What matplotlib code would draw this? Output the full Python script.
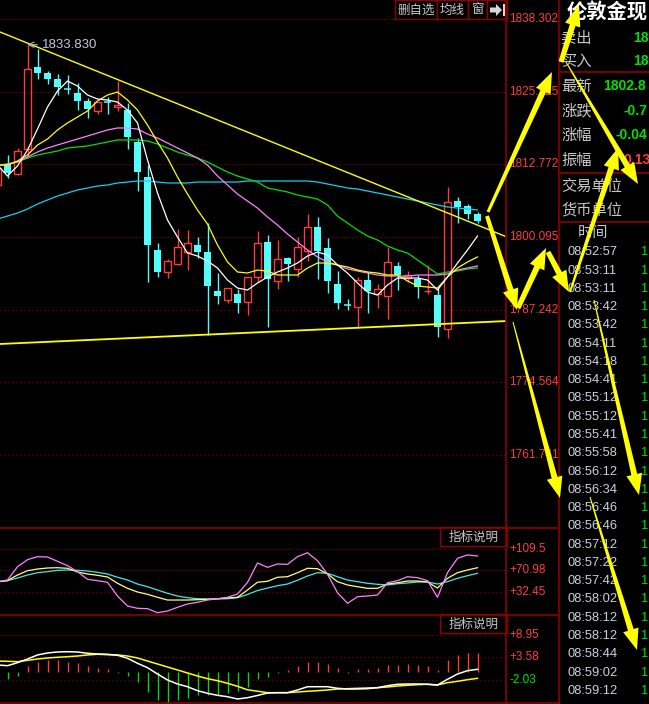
import numpy as np
import matplotlib.pyplot as plt
from matplotlib.patches import Rectangle, Polygon

plt.rcParams['font.family'] = ['Liberation Sans', 'Noto Sans CJK SC', 'DejaVu Sans']
CJK = ['Noto Sans CJK SC', 'DejaVu Sans']

RED = '#ff3c3c'
CYAN = '#54fcfc'
GREEN = '#00e000'
GRID = '#9a0000'
FRAME = '#8c0000'
GREY = '#c8c8c8'

## K-line data, bar -1 is the half bar cut at the left edge
bar_idx = list(range(-1, 48))
opens = [1809.17, 1812.86, 1811.10, 1815.50, 1829.91, 1828.86, 1827.81, 1826.07, 1825.34, 1823.94,
         1822.18, 1823.80, 1822.88, 1822.35, 1816.72, 1810.57, 1797.74, 1793.87, 1795.27, 1797.38,
         1798.61, 1797.38, 1790.53, 1788.94, 1789.99, 1788.59, 1792.99, 1799.14, 1792.29, 1796.33,
         1794.40, 1797.56, 1801.78, 1798.09, 1791.76, 1788.00, 1787.71, 1792.46, 1789.99, 1789.65,
         1794.92, 1792.81, 1792.64, 1790.56, 1789.82, 1783.85, 1806.35, 1805.47, 1804.07]
closes = [1812.15, 1811.27, 1815.15, 1829.56, 1828.86, 1827.81, 1826.40, 1826.05, 1823.94, 1822.53,
          1823.76, 1823.76, 1823.23, 1817.60, 1811.45, 1798.61, 1793.87, 1795.80, 1798.26, 1798.97,
          1797.38, 1791.40, 1789.65, 1791.05, 1788.42, 1792.99, 1798.97, 1792.64, 1796.15, 1795.27,
          1798.26, 1801.78, 1797.56, 1792.29, 1788.42, 1787.98, 1792.46, 1790.53, 1790.88, 1795.62,
          1793.34, 1793.34, 1791.23, 1790.60, 1784.20, 1806.18, 1805.30, 1804.07, 1802.83]
highs = [1813.03, 1814.44, 1815.67, 1833.83, 1833.08, 1829.21, 1828.68, 1828.51, 1827.10, 1824.46,
         1823.76, 1824.64, 1827.45, 1823.59, 1817.43, 1812.68, 1798.97, 1796.15, 1801.43, 1801.25,
         1800.02, 1802.48, 1793.69, 1791.05, 1790.88, 1792.99, 1801.08, 1800.37, 1799.50, 1796.50,
         1800.02, 1804.07, 1803.54, 1799.85, 1794.04, 1789.12, 1792.99, 1793.87, 1791.76, 1798.26,
         1795.62, 1794.04, 1793.34, 1795.10, 1791.05, 1808.81, 1807.06, 1805.83, 1804.42]
lows = [1808.81, 1810.40, 1810.92, 1813.91, 1827.81, 1826.93, 1824.99, 1825.17, 1822.35, 1820.95,
        1821.65, 1821.65, 1822.18, 1815.50, 1808.11, 1792.11, 1792.99, 1792.81, 1795.10, 1794.22,
        1796.33, 1782.79, 1788.24, 1788.42, 1786.66, 1786.30, 1792.11, 1784.20, 1790.88, 1792.29,
        1792.99, 1795.80, 1792.64, 1790.17, 1787.36, 1787.19, 1784.02, 1786.66, 1787.54, 1785.60,
        1790.70, 1792.11, 1789.30, 1789.99, 1782.44, 1782.26, 1802.48, 1803.19, 1802.48]

ma5 = [1812.68, 1810.75, 1812.51, 1815.32, 1819.01, 1822.88, 1825.69, 1827.45, 1826.57, 1824.99,
       1824.29, 1824.11, 1823.76, 1822.35, 1820.07, 1813.56, 1807.76, 1803.01, 1800.02, 1797.21,
       1796.68, 1795.80, 1794.57, 1792.46, 1791.05, 1790.70, 1791.93, 1792.99, 1793.87, 1794.57,
       1795.45, 1796.68, 1797.38, 1796.86, 1795.10, 1793.69, 1791.93, 1790.35, 1789.82, 1791.58,
       1792.81, 1792.81, 1792.81, 1792.46, 1790.70, 1792.99, 1795.45, 1797.74, 1800.20]
ma10 = [1812.68, 1812.68, 1813.39, 1814.44, 1816.20, 1817.25, 1818.84, 1820.07, 1821.12, 1822.18,
        1823.94, 1824.99, 1825.52, 1824.11, 1822.35, 1819.72, 1816.73, 1813.91, 1810.57, 1807.58,
        1804.77, 1802.31, 1798.62, 1795.63, 1793.87, 1793.69, 1794.22, 1794.04, 1793.34, 1793.34,
        1793.34, 1794.57, 1795.45, 1795.45, 1795.10, 1794.75, 1794.22, 1793.87, 1793.69, 1793.34,
        1793.34, 1792.29, 1791.41, 1791.23, 1791.05, 1792.99, 1794.57, 1795.63, 1796.51]
ma20 = [1812.51, 1812.86, 1813.21, 1814.09, 1814.97, 1815.67, 1816.20, 1816.73, 1817.25, 1817.78,
        1818.31, 1818.84, 1819.19, 1819.19, 1819.01, 1818.13, 1817.43, 1816.55, 1815.67, 1814.79,
        1813.91, 1812.68, 1810.75, 1809.17, 1807.58, 1806.35, 1805.12, 1803.54, 1802.13, 1800.55,
        1799.14, 1797.74, 1796.51, 1795.63, 1795.10, 1794.40, 1794.04, 1793.69, 1793.34, 1793.16,
        1793.16, 1793.16, 1793.34, 1793.34, 1793.34, 1793.52, 1794.22, 1794.57, 1794.92]
ma30 = [1812.68, 1812.86, 1813.21, 1813.91, 1814.44, 1814.79, 1815.14, 1815.67, 1815.85, 1816.02,
        1816.38, 1816.73, 1817.08, 1817.08, 1817.08, 1816.90, 1816.38, 1815.67, 1814.97, 1814.44,
        1813.91, 1813.21, 1812.33, 1811.45, 1810.75, 1810.22, 1809.69, 1808.64, 1808.29, 1807.94,
        1807.41, 1807.06, 1806.70, 1805.65, 1803.71, 1802.48, 1801.25, 1800.20, 1799.49, 1798.44,
        1797.74, 1797.21, 1795.98, 1794.75, 1793.52, 1793.87, 1794.04, 1794.40, 1794.57]
ma60 = [1803.19, 1803.71, 1804.24, 1804.95, 1805.82, 1806.53, 1807.23, 1807.76, 1808.29, 1808.64,
        1808.99, 1809.17, 1809.52, 1809.69, 1809.87, 1809.87, 1809.69, 1809.52, 1809.52, 1809.52,
        1809.69, 1809.69, 1809.69, 1809.69, 1809.69, 1809.87, 1809.87, 1809.87, 1809.87, 1809.87,
        1809.87, 1809.87, 1809.69, 1809.34, 1808.99, 1808.64, 1808.46, 1808.11, 1807.76, 1807.41,
        1807.06, 1806.70, 1806.35, 1806.00, 1805.65, 1805.30, 1805.12, 1804.95, 1804.77]

# hand drawn trend lines (bar index, price)
trend_top = ([-0.75, 49.95], [1836.07, 1800.02])
trend_bottom = ([-0.75, 49.95], [1781.21, 1785.25])

price_ticks = [1838.302, 1825.525, 1812.772, 1800.095, 1787.242, 1774.564, 1761.741]

## KDJ
kdj_j = [51.2, 54.2, 77.7, 90.1, 95.4, 94.8, 87.2, 79.5, 68.9, 55.4, 53.0, 50.1, 25.9, 8.2, 4.2, 3.5,
         -3.6, -0.6, 5.9, 11.8, 14.8, 18.8, 21.1, 23.6, 29.4, 49.8, 84.2, 76.6, 82.5, 81.9, 95.4, 102.4,
         88.3, 64.3, 31.7, 13.0, 24.7, 25.9, 27.7, 49.4, 53.0, 60.0, 58.3, 53.0, 23.6, 67.1, 92.5, 98.4, 96.6]
kdj_k = [51.2, 53.0, 63.0, 70.6, 73.6, 75.4, 75.9, 74.9, 68.3, 64.8, 62.5, 59.5, 48.4, 39.5, 33.0, 28.9,
         23.6, 18.8, 18.8, 18.8, 19.4, 20.1, 21.1, 22.4, 23.6, 36.5, 50.3, 51.9, 59.0, 60.0, 67.1, 74.9,
         74.2, 64.8, 51.2, 45.4, 42.3, 39.5, 39.5, 47.1, 49.4, 52.4, 52.4, 50.7, 40.0, 57.2, 67.1, 71.9, 75.9]
kdj_d = [50.7, 53.0, 57.7, 63.0, 67.1, 68.9, 71.3, 71.9, 71.3, 70.1, 67.8, 64.8, 59.0, 54.2, 47.1, 42.3,
         36.5, 30.7, 25.9, 22.9, 21.1, 20.6, 20.6, 21.1, 22.9, 28.6, 35.6, 40.0, 44.1, 47.1, 53.7, 61.3,
         67.1, 66.0, 60.0, 54.2, 51.2, 48.4, 46.6, 45.4, 47.6, 48.9, 50.7, 50.7, 47.1, 51.2, 57.2, 61.8, 66.0]
kdj_ticks = [109.5, 70.98, 32.45]
kdj_labels = ['+109.5', '+70.98', '+32.45']

## MACD
dif = [1.71, 1.54, 2.27, 3.17, 4.15, 4.64, 4.88, 4.95, 4.88, 4.56, 4.39, 4.32, 4.08, 3.34, 2.12, 1.05,
       -0.49, -1.95, -2.93, -3.59, -4.56, -5.20, -5.69, -6.03, -6.59, -6.27, -5.73, -5.12, -5.05, -5.05,
       -4.39, -3.59, -3.59, -3.59, -3.98, -4.15, -4.15, -4.07, -3.83, -3.34, -3.00, -2.93, -2.93, -3.00,
       -3.17, -1.78, -0.49, 0.32, 0.66]
dea = [2.68, 2.61, 2.51, 2.85, 3.17, 3.42, 3.59, 3.73, 3.90, 4.15, 4.32, 4.22, 4.15, 3.90, 3.42, 2.68,
       1.95, 1.22, 0.49, -0.24, -0.98, -1.63, -2.12, -2.76, -3.49, -4.34, -4.69, -5.05, -5.05, -5.05,
       -4.88, -4.71, -4.56, -4.39, -4.15, -4.07, -3.98, -3.90, -3.83, -3.66, -3.42, -3.25, -3.10, -3.00,
       -3.17, -2.61, -2.27, -1.88, -1.54]
macd_hist = [0.0, -1.71, -0.98, 1.54, 2.51, 2.93, 2.93, 2.51, 2.12, 1.46, 0.90, 0.66, -0.15, -0.98,
             -2.37, -4.81, -6.83, -7.49, -6.83, -6.42, -5.61, -5.61, -5.61, -5.05, -4.64, -3.59, -1.78,
             -1.15, -0.32, 0.49, 1.54, 2.37, 2.37, 1.95, 0.90, -0.20, 0.73, 0.73, 1.05, 1.71, 1.71, 1.95,
             1.71, 1.54, 0.56, 2.93, 4.15, 4.71, 4.71]
macd_ticks = [8.95, 3.58, -2.03]
macd_labels = ['+8.95', '+3.58', '-2.03']

## right hand quote panel (only the part that fits on screen)
quote_rows = [('卖出', '18', 633, GREEN), ('买入', '18', 633, GREEN)]
stat_rows = [('最新', '1802.8', 603, GREEN), ('涨跌', '-0.7', 623, GREEN),
             ('涨幅', '-0.04', 616, GREEN), ('振幅', '0.13', 623, RED)]
unit_rows = ['交易单位', '货币单位']
tick_times = ['08:52:57', '08:53:11', '08:53:11', '08:53:42', '08:53:42', '08:54:11', '08:54:18',
              '08:54:41', '08:55:12', '08:55:12', '08:55:41', '08:55:58', '08:56:12', '08:56:34',
              '08:56:46', '08:56:46', '08:57:12', '08:57:22', '08:57:42', '08:58:02', '08:58:12',
              '08:58:12', '08:58:44', '08:59:02', '08:59:12']


W, H = 649, 704
fig = plt.figure(figsize=(W / 100, H / 100), dpi=100, facecolor='black')


def panel(top, bottom):
    a = fig.add_axes([0, 1 - bottom / H, 506 / W, (bottom - top) / H])
    a.set_facecolor('black')
    a.set_xlim(-0.75, 49.85)
    a.axis('off')
    return a


def grid(a, vals, labels, colors):
    for v, s, c in zip(vals, labels, colors):
        a.axhline(v, color=GRID, lw=0.8, ls=(0, (1, 2.6)), zorder=1)
        a.text(50.15, v, s, color=c, fontsize=8.5, va='center', ha='left', clip_on=False)


# main k-line panel
ax = panel(0, 527)
ax.set_ylim(1749.03, 1841.696)
grid(ax, price_ticks, ['%.3f' % v for v in price_ticks], [RED] * 7)

for x, o, h, l, c in zip(bar_idx, opens, highs, lows, closes):
    top, bot = max(o, c), min(o, c)
    if c > o:
        ax.add_patch(Rectangle((x - 0.33, bot), 0.66, top - bot, fill=False,
                               edgecolor=RED, lw=1.0, zorder=2))
        ax.vlines(x, top, h, color=RED, lw=1.0, zorder=2)
        ax.vlines(x, l, bot, color=RED, lw=1.0, zorder=2)
    else:
        ax.vlines(x, l, h, color=CYAN, lw=1.0, zorder=2)
        if top - bot < 0.2:
            ax.hlines(top, x - 0.35, x + 0.35, color=CYAN, lw=1.1, zorder=2)
        else:
            ax.add_patch(Rectangle((x - 0.35, bot), 0.7, top - bot, facecolor=CYAN,
                                   edgecolor='none', zorder=2))

ax.plot(bar_idx, ma60, color='#10d0f0', lw=0.9, zorder=3)
ax.plot(bar_idx, ma30, color='#00e000', lw=0.9, zorder=3)
ax.plot(bar_idx, ma20, color='#ff80ff', lw=0.9, zorder=3)
ax.plot(bar_idx, ma10, color='#ffff00', lw=0.9, zorder=3)
ax.plot(bar_idx, ma5, color='white', lw=0.9, zorder=3)
ax.plot(*trend_top, color='#ffff00', lw=1.0, zorder=3)
ax.plot(*trend_bottom, color='#ffff00', lw=1.3, zorder=3)

ax.annotate('1833.830', xy=(2.0, highs[3]), xytext=(3.4, highs[3]), color='#c0c8d8',
            fontsize=9.5, va='center', ha='left',
            arrowprops=dict(arrowstyle='->', color='#b0b8c8', lw=0.8, shrinkA=1, shrinkB=0))

# KDJ panel
ax2 = panel(527, 614)
ax2.set_ylim(-5.9, 147.85)
grid(ax2, kdj_ticks, kdj_labels, [RED] * 3)
ax2.plot(bar_idx, kdj_d, color='#40e8e8', lw=0.9)
ax2.plot(bar_idx, kdj_k, color='#ffff80', lw=0.9)
ax2.plot(bar_idx, kdj_j, color='#ff80ff', lw=0.9)

# MACD panel
ax3 = panel(614, 704)
ax3.set_ylim(-7.81, 14.15)
grid(ax3, macd_ticks, macd_labels, [RED, RED, GREEN])
hist = np.array(macd_hist)
ax3.vlines(bar_idx, 0, hist, colors=np.where(hist > 0, RED, '#10d010'), lw=1.0)
ax3.plot(bar_idx, dea, color='#ffff00', lw=1.1)
ax3.plot(bar_idx, dif, color='white', lw=1.1)

# screen furniture in pixel coordinates
ui = fig.add_axes([0, 0, 1, 1], zorder=10)
ui.set_xlim(0, W)
ui.set_ylim(H, 0)
ui.axis('off')
ui.patch.set_alpha(0)

ui.plot([506, 506], [0, H], color=FRAME, lw=1.2)
ui.plot([559, 559], [0, H], color=FRAME, lw=1.2)
for yy in (527.5, 614.5, 703):
    ui.plot([0, 559], [yy, yy], color=FRAME, lw=1.2)
for yy in (72, 173, 221.5):
    ui.plot([559, W], [yy, yy], color=FRAME, lw=1.2)

for (x0, x1), s in zip([(395, 437), (437, 468), (468, 487)], ['删自选', '均线', '窗']):
    ui.add_patch(Rectangle((x0, 0), x1 - x0, 19, facecolor='black', edgecolor=FRAME, lw=1.0))
    ui.text((x0 + x1) / 2, 10, s, color=GREY, fontsize=9, ha='center', va='center', family=CJK)
ui.add_patch(Rectangle((487, 0), 20, 19, facecolor='black', edgecolor=FRAME, lw=1.0))
ui.add_patch(Polygon([(490, 7.5), (496, 7.5), (496, 4), (502, 10), (496, 16), (496, 12.5), (490, 12.5)],
                     closed=True, facecolor='#d8d8d8', edgecolor='none'))
ui.add_patch(Rectangle((502.5, 4), 2, 12, facecolor='#d8d8d8', edgecolor='none'))

for yy in (527, 614):
    ui.add_patch(Rectangle((440, yy), 67, 19, facecolor='black', edgecolor=FRAME, lw=1.0))
    ui.text(473.5, yy + 10, '指标说明', color=GREY, fontsize=9, ha='center', va='center', family=CJK)

ui.text(567, 12, '伦敦金现', color='white', fontsize=14.6, fontweight='bold', va='center',
        ha='left', family=CJK)
for k, (name, val, vx, col) in enumerate(quote_rows):
    ui.text(561, 38 + 23 * k, name, color=GREY, fontsize=11, va='center', family=CJK)
    ui.text(vx, 38 + 23 * k, val, color=col, fontsize=10, va='center', fontweight='bold')
for k, (name, val, vx, col) in enumerate(stat_rows):
    ui.text(561, 86 + 24.7 * k, name, color=GREY, fontsize=11, va='center', family=CJK)
    ui.text(vx, 86 + 24.7 * k, val, color=col, fontsize=10, va='center', fontweight='bold')
for k, name in enumerate(unit_rows):
    ui.text(561, 186 + 24 * k, name, color=GREY, fontsize=11, va='center', family=CJK)
ui.text(578, 233, '时间', color=GREY, fontsize=11, va='center', family=CJK)
for k, t in enumerate(tick_times):
    ui.text(568, 252.3 + 18.27 * k, t, color='#c8d0e0', fontsize=9.3, va='center')
    ui.text(641, 252.3 + 18.27 * k, '1', color=GREEN, fontsize=9.3, va='center')

# yellow hand drawn arrows
arrows = [((488, 212), (552, 72), 3, 6), ((561, 62), (579, 5), 5, 6),
          ((566, 62), (638, 184), 1, 6), ((570, 292), (618, 148), 2, 6),
          ((487, 216), (517, 310), 4, 6), ((518, 308), (546, 248), 5, 6),
          ((548, 252), (569, 292), 5, 6), ((513, 322), (560, 498), 1, 6),
          ((594, 300), (639, 495), 1, 6), ((590, 497), (637, 650), 1, 6)]
for s, e, w0, w1 in arrows:
    s, e = np.array(s, float), np.array(e, float)
    u = (e - s) / np.hypot(*(e - s))
    n = np.array([-u[1], u[0]])
    b = e - u * 21
    pts = [s + n * w0 / 2, b + n * w1 / 2, b + n * 8, e, b - n * 8, b - n * w1 / 2, s - n * w0 / 2]
    ui.add_patch(Polygon(pts, closed=True, facecolor='#ffff00', edgecolor='none', zorder=20))

fig.savefig('out.png', dpi=100, facecolor='black')
